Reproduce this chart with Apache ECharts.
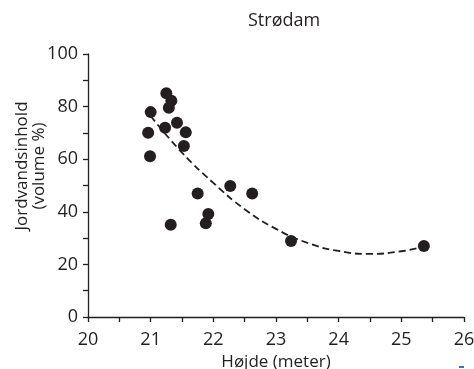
<!DOCTYPE html>
<html>
<head>
<meta charset="utf-8">
<script src="https://cdn.jsdelivr.net/npm/echarts@6/dist/echarts.min.js"></script>
<style>
  html, body { margin: 0; padding: 0; background: #fff; }
  #chart { width: 474px; height: 369px; }
</style>
</head>
<body>
<div id="chart"></div>
<script>
// measured points: height (m) vs soil water content (volume %)
const heights = [21.25, 21.33, 21.29, 21.00, 21.42, 21.23, 20.96, 21.56, 21.53, 20.99,
  21.75, 22.27, 21.92, 21.88, 21.32, 22.62, 23.24, 25.36]
const water = [85.1, 82.2, 79.6, 77.9, 73.9, 72.0, 70.1, 70.2, 65.0, 61.1,
  47.0, 49.8, 39.2, 35.6, 35.1, 47.0, 28.9, 27.0]

// dashed trend curve
const trendX = [21.0, 21.5, 22.0, 22.5, 23.0, 23.5, 24.0, 24.5, 25.0, 25.35]
const trendY = [76.4, 62.5, 51.0, 41.0, 33.5, 28.2, 25.1, 24.0, 25.0, 26.8]

const yTicks = [0, 20, 40, 60, 80, 100]
const xTicks = [20, 21, 22, 23, 24, 25, 26]

const ink = '#231f20'
const font = 'Open Sans'

const chart = echarts.init(document.getElementById('chart'), null, { renderer: 'canvas' })
chart.setOption({
  animation: false,
  backgroundColor: '#fff',
  textStyle: { fontFamily: font, color: ink },
  title: {
    text: 'Strødam',
    left: 243,
    top: 7,
    textStyle: { fontFamily: font, fontSize: 18, fontWeight: 'normal', color: ink },
  },
  grid: { left: 88, right: 10, top: 54, bottom: 52, outerBoundsMode: 'none', containLabel: false },
  xAxis: {
    type: 'value',
    min: 20,
    max: 26,
    interval: 0.5,
    name: 'Højde (meter)',
    nameLocation: 'middle',
    nameGap: 37,
    nameTextStyle: { fontFamily: font, fontSize: 17, color: ink },
    axisLine: { onZero: false, lineStyle: { color: ink, width: 1.3 } },
    axisTick: { length: 5, lineStyle: { color: ink, width: 1.3 } },
    axisLabel: {
      margin: 14,
      fontFamily: font,
      fontSize: 18,
      color: ink,
      formatter: (v) => (xTicks.includes(v) ? String(v) : ''),
    },
    splitLine: { show: false },
  },
  yAxis: {
    type: 'value',
    min: 0,
    max: 100,
    interval: 10,
    axisLine: { show: true, lineStyle: { color: ink, width: 1.3 } },
    axisTick: { show: true, length: 5, lineStyle: { color: ink, width: 1.3 } },
    axisLabel: {
      margin: 10,
      fontFamily: font,
      fontSize: 18,
      color: ink,
      formatter: (v) => (yTicks.includes(v) ? String(v) : ''),
    },
    splitLine: { show: false },
  },
  graphic: [
    {
      type: 'text',
      x: 31,
      y: 166,
      rotation: Math.PI / 2,
      style: {
        text: 'Jordvandsinhold\n(volume %)',
        font: '17px "Open Sans"',
        fill: ink,
        align: 'center',
        verticalAlign: 'middle',
        lineHeight: 17,
      },
    },
    {
      type: 'rect',
      shape: { x: 459, y: 366, width: 5, height: 2 },
      style: { fill: '#4a6fa5' },
    },
  ],
  series: [
    {
      type: 'line',
      data: trendX.map((x, i) => [x, trendY[i]]),
      smooth: true,
      showSymbol: false,
      lineStyle: { color: ink, width: 1.8, type: [7, 4] },
      z: 1,
    },
    {
      type: 'scatter',
      data: heights.map((h, i) => [h, water[i]]),
      symbol: 'circle',
      symbolSize: 12,
      itemStyle: { color: ink, opacity: 1 },
      z: 2,
    },
  ],
})
</script>
</body>
</html>
